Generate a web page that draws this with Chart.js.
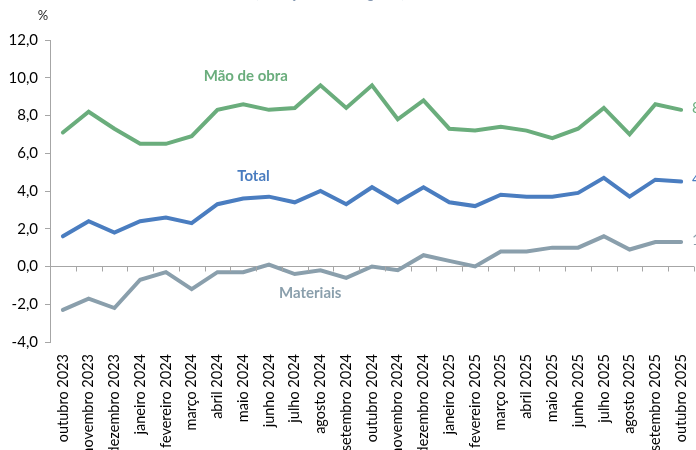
<!DOCTYPE html>
<html>
<head>
<meta charset="utf-8">
<script src="https://cdn.jsdelivr.net/npm/chart.js@4"></script>
<style>
  html, body { margin: 0; padding: 0; background: #fff; overflow: hidden; }
  #wrap { position: relative; width: 696px; height: 470px; }
</style>
</head>
<body>
<div id="wrap"><canvas id="chart"></canvas></div>
<script>
const months = [
    'outubro 2023', 'novembro 2023', 'dezembro 2023', 'janeiro 2024', 'fevereiro 2024', 'março 2024',
    'abril 2024', 'maio 2024', 'junho 2024', 'julho 2024', 'agosto 2024', 'setembro 2024',
    'outubro 2024', 'novembro 2024', 'dezembro 2024', 'janeiro 2025', 'fevereiro 2025', 'março 2025',
    'abril 2025', 'maio 2025', 'junho 2025', 'julho 2025', 'agosto 2025', 'setembro 2025', 'outubro 2025'
];
const maoDeObra = [7.1, 8.2, 7.3, 6.5, 6.5, 6.9, 8.3, 8.6, 8.3, 8.4, 9.6, 8.4, 9.6, 7.8, 8.8, 7.3, 7.2, 7.4, 7.2, 6.8, 7.3, 8.4, 7.0, 8.6, 8.3];
const total = [1.6, 2.4, 1.8, 2.4, 2.6, 2.3, 3.3, 3.6, 3.7, 3.4, 4.0, 3.3, 4.2, 3.4, 4.2, 3.4, 3.2, 3.8, 3.7, 3.7, 3.9, 4.7, 3.7, 4.6, 4.5];
const materiais = [-2.3, -1.7, -2.2, -0.7, -0.3, -1.2, -0.3, -0.3, 0.1, -0.4, -0.2, -0.6, 0.0, -0.2, 0.6, 0.3, 0.0, 0.8, 0.8, 1.0, 1.0, 1.6, 0.9, 1.3, 1.3];
const yTicks = [12, 10, 8, 6, 4, 2, 0, -2, -4];

const GREEN = '#6aad7c';
const BLUE = '#4a7dc0';
const GREY = '#8a9fac';
const AXIS = '#a6a6a6';
const FONT = 'Lato, "Liberation Sans", sans-serif';

const fmt = v => v.toFixed(1).replace('.', ',');

// series names next to the lines, value labels at the last point, zero-line ticks, title, unit
const decor = {
    id: 'decor',
    afterDatasetsDraw(chart) {
        const { ctx, scales: { x, y } } = chart;
        ctx.save();

        // small ticks on the zero line between categories
        const y0 = y.getPixelForValue(0);
        const step = x.getPixelForValue(1) - x.getPixelForValue(0);
        ctx.strokeStyle = AXIS;
        ctx.lineWidth = 1;
        for (let i = 0; i <= months.length; i++) {
            const px = Math.round(x.getPixelForValue(i) - step / 2) + 0.5;
            ctx.beginPath();
            ctx.moveTo(px, y0);
            ctx.lineTo(px, y0 + 5);
            ctx.stroke();
        }

        // series names
        ctx.font = 'bold 15px ' + FONT;
        ctx.textAlign = 'center';
        ctx.textBaseline = 'middle';
        [['Mão de obra', 7.1, 10.1, GREEN], ['Total', 7.4, 4.8, BLUE], ['Materiais', 9.6, -1.4, GREY]]
            .forEach(([t, i, v, c]) => {
                ctx.fillStyle = c;
                ctx.fillText(t, x.getPixelForValue(i), y.getPixelForValue(v));
            });

        // last values
        ctx.font = '15px ' + FONT;
        ctx.textAlign = 'left';
        chart.data.datasets.forEach(ds => {
            const last = ds.data.length - 1;
            ctx.fillStyle = ds.borderColor;
            ctx.fillText(fmt(ds.data[last]), x.getPixelForValue(last) + 11, y.getPixelForValue(ds.data[last]) - 2);
        });

        // unit and (mostly hidden) title
        ctx.fillStyle = '#262626';
        ctx.font = '13px ' + FONT;
        ctx.textAlign = 'center';
        ctx.fillText('%', 43, 16);
        ctx.fillStyle = '#8497b0';
        ctx.font = '15px ' + FONT;
        ctx.textBaseline = 'alphabetic';
        ctx.fillText('(variação homóloga, %)', 330, -2);

        ctx.restore();
    }
};

const lineDs = (label, data, color) => ({
    label,
    data,
    borderColor: color,
    backgroundColor: color,
    borderWidth: 4,
    pointRadius: 0,
    tension: 0,
    borderCapStyle: 'round',
    borderJoinStyle: 'miter'
});

new Chart(document.getElementById('chart'), {
    type: 'line',
    data: {
        labels: months,
        datasets: [
            lineDs('Mão de obra', maoDeObra, GREEN),
            lineDs('Total', total, BLUE),
            lineDs('Materiais', materiais, GREY)
        ]
    },
    options: {
        responsive: true,
        maintainAspectRatio: false,
        animation: false,
        layout: { padding: { top: 40, right: 2, left: 0, bottom: 0 } },
        plugins: {
            legend: { display: false },
            tooltip: { enabled: false }
        },
        scales: {
            x: {
                offset: true,
                grid: { display: false },
                border: { display: false },
                afterFit: s => {
                    s.height = 128;
                    s.paddingLeft = 0;
                    s.paddingRight = 0;
                },
                ticks: {
                    autoSkip: false,
                    maxRotation: 90,
                    minRotation: 90,
                    padding: 4,
                    color: '#000',
                    font: { family: FONT, size: 14.5 }
                }
            },
            y: {
                min: -4,
                max: 12,
                afterFit: s => { s.width = 50; },
                afterBuildTicks: s => { s.ticks = yTicks.map(v => ({ value: v })); },
                border: { display: true, color: AXIS, width: 1 },
                grid: {
                    drawOnChartArea: true,
                    color: c => (c.tick && c.tick.value === 0 ? AXIS : 'rgba(0,0,0,0)'),
                    tickColor: AXIS,
                    tickLength: 5
                },
                ticks: {
                    padding: 7,
                    color: '#000',
                    font: { family: FONT, size: 15 },
                    callback: v => fmt(v)
                }
            }
        }
    },
    plugins: [decor]
});
</script>
</body>
</html>
